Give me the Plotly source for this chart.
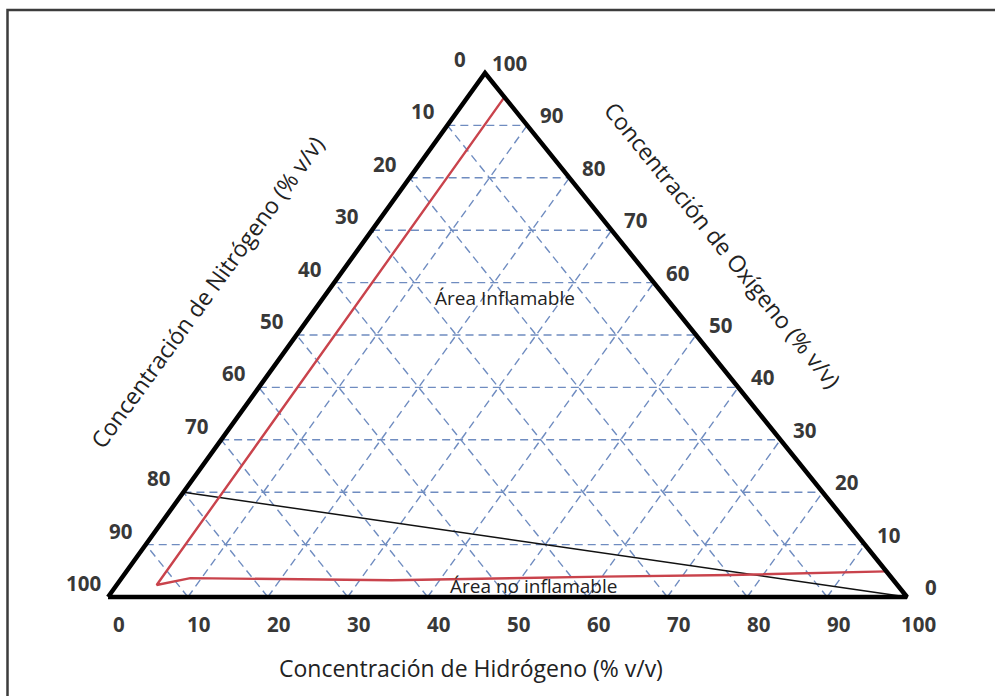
import plotly.graph_objects as go

# ---- data (ternary: H2 %, O2 %, N2 = 100 - H2 - O2) ----
tick_values = [0, 10, 20, 30, 40, 50, 60, 70, 80, 90, 100]
grid_levels = [10, 20, 30, 40, 50, 60, 70, 80, 90]

# flammability envelope (red)
red_h2 = [4.6, 5.0, 8.6, 21.0, 34.0, 60.0, 76.0, 95.1]
red_o2 = [95.4, 2.3, 3.6, 3.4, 3.2, 3.9, 4.2, 4.9]

# air line (black): N2 80 / O2 20 -> pure H2
air_h2 = [0, 100]
air_o2 = [20, 0]

# triangle outline
tri_h2 = [0, 100, 0, 0]
tri_o2 = [0, 0, 100, 0]

# region labels (ternary positions)
region_text = ["Área Inflamable", "Área no inflamable"]
region_h2 = [22.7, 52.3]
region_o2 = [57.1, 2.1]

left_title = "Concentración de Nitrógeno (% v/v)"
right_title = "Concentración de Oxígeno (% v/v)"
bottom_title = "Concentración de Hidrógeno (% v/v)"

# ---- geometry of the (skewed) triangle ----
SKEW = 377 / 799.0


def to_xy(h2, o2):
    xs, ys = [], []
    for h, o in zip(h2, o2):
        if h is None:
            xs.append(None)
            ys.append(None)
        else:
            xs.append(h + SKEW * o)
            ys.append(o)
    return xs, ys


fig = go.Figure()

# grid lines
gh, go2 = [], []
for t in grid_levels:
    gh += [0, 100 - t, None]
    go2 += [t, t, None]
    gh += [t, t, None]
    go2 += [0, 100 - t, None]
    gh += [100 - t, 0, None]
    go2 += [0, 100 - t, None]
gx, gy = to_xy(gh, go2)
fig.add_trace(go.Scatter(x=gx, y=gy, mode="lines",
                         line=dict(color="#6f8cc0", width=1.4, dash="8px,5px"),
                         hoverinfo="skip"))

# air line
ax, ay = to_xy(air_h2, air_o2)
fig.add_trace(go.Scatter(x=ax, y=ay, mode="lines",
                         line=dict(color="#111111", width=1.5), hoverinfo="skip"))

# flammability envelope
rx, ry = to_xy(red_h2, red_o2)
fig.add_trace(go.Scatter(x=rx, y=ry, mode="lines",
                         line=dict(color="#c9434c", width=2.4), hoverinfo="skip"))

# triangle
tx, ty = to_xy(tri_h2, tri_o2)
fig.add_trace(go.Scatter(x=tx, y=ty, mode="lines",
                         line=dict(color="#000000", width=4.5), hoverinfo="skip"))

annotations = []
tick_font = dict(family="Open Sans", size=20.5, color="#383838", weight="bold")

for n in tick_values:
    x, y = to_xy([0], [100 - n])
    annotations.append(dict(x=x[0], y=y[0], text=str(n), showarrow=False,
                            xanchor="center", yanchor="middle",
                            xshift=-25, yshift=14, font=tick_font))
    x, y = to_xy([100 - n], [n])
    annotations.append(dict(x=x[0], y=y[0], text=str(n), showarrow=False,
                            xanchor="center", yanchor="middle",
                            xshift=24, yshift=10, font=tick_font))
    x, y = to_xy([n], [0])
    annotations.append(dict(x=x[0], y=y[0], text=str(n), showarrow=False,
                            xanchor="center", yanchor="middle",
                            xshift=11, yshift=-27, font=tick_font))

rxs, rys = to_xy(region_h2, region_o2)
for t, x, y in zip(region_text, rxs, rys):
    annotations.append(dict(x=x, y=y, text=t, showarrow=False,
                            xanchor="center", yanchor="middle",
                            font=dict(family="Open Sans", size=19, color="#222222")))

title_font = dict(family="Open Sans", size=23, color="#222222")
annotations.append(dict(xref="paper", yref="paper", x=471 / 995, y=1 - 668 / 696,
                        xanchor="center", yanchor="middle",
                        text=bottom_title, showarrow=False, font=title_font))
annotations.append(dict(xref="paper", yref="paper", x=207 / 995, y=1 - 292 / 696,
                        xanchor="center", yanchor="middle",
                        text=left_title, showarrow=False, textangle=-54, font=title_font))
annotations.append(dict(xref="paper", yref="paper", x=723 / 995, y=1 - 245 / 696,
                        xanchor="center", yanchor="middle",
                        text=right_title, showarrow=False, textangle=51, font=title_font))

fig.update_layout(
    width=995, height=696,
    margin=dict(l=0, r=0, t=0, b=0),
    paper_bgcolor="white", plot_bgcolor="white",
    showlegend=False,
    xaxis=dict(range=[-13.52, 111.01], visible=False, fixedrange=True),
    yaxis=dict(range=[-18.89, 113.93], visible=False, fixedrange=True),
    annotations=annotations,
    shapes=[dict(type="rect", xref="paper", yref="paper",
                 x0=7.5 / 995, x1=1.03, y0=-0.03, y1=1 - 10 / 696,
                 line=dict(color="#3c3c3c", width=2.5))],
)

fig.write_html("out.html", config={"displayModeBar": False},
               post_script="document.body.style.margin='0';document.body.style.overflow='hidden';")
